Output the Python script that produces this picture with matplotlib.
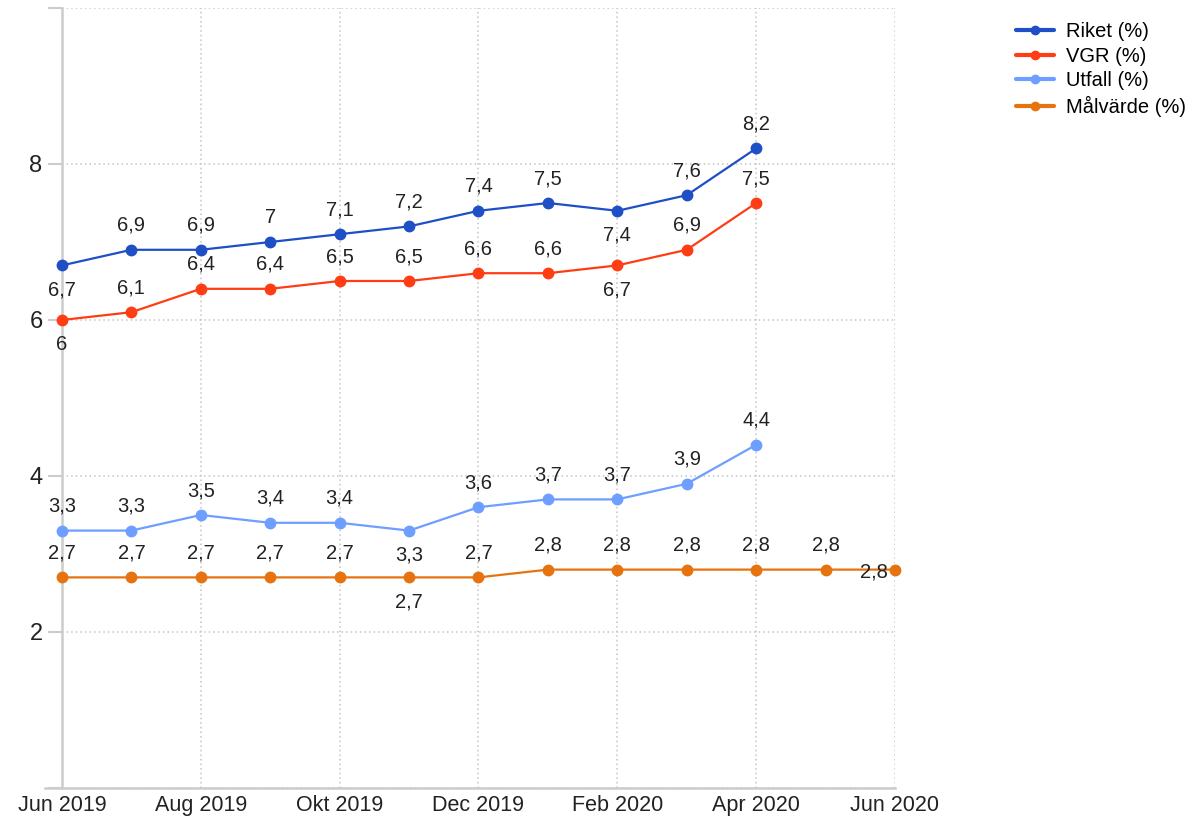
#!/usr/bin/env python3

from matplotlib import pyplot as plt

plt.rcParams['font.family'] = ['Liberation Sans', 'DejaVu Sans']

# months Jun 2019 .. Jun 2020
months = ['Jun 2019', 'Jul 2019', 'Aug 2019', 'Sep 2019', 'Okt 2019', 'Nov 2019',
          'Dec 2019', 'Jan 2020', 'Feb 2020', 'Mar 2020', 'Apr 2020', 'Maj 2020', 'Jun 2020']
tick_labels = ['Jun 2019', 'Aug 2019', 'Okt 2019', 'Dec 2019', 'Feb 2020', 'Apr 2020', 'Jun 2020']

riket = [6.7, 6.9, 6.9, 7.0, 7.1, 7.2, 7.4, 7.5, 7.4, 7.6, 8.2]
vgr = [6.0, 6.1, 6.4, 6.4, 6.5, 6.5, 6.6, 6.6, 6.7, 6.9, 7.5]
utfall = [3.3, 3.3, 3.5, 3.4, 3.4, 3.3, 3.6, 3.7, 3.7, 3.9, 4.4]
malvarde = [2.7, 2.7, 2.7, 2.7, 2.7, 2.7, 2.7, 2.8, 2.8, 2.8, 2.8, 2.8, 2.8]

series = [
    ('Riket (%)', riket, '#1f4fc6'),
    ('VGR (%)', vgr, '#ff3d14'),
    ('Utfall (%)', utfall, '#6e9eff'),
    ('Målvärde (%)', malvarde, '#e6730f'),
]

# where a value label is not put above its point
label_place = {
    ('Riket (%)', 0): 'below', ('VGR (%)', 0): 'below',
    ('Riket (%)', 8): 'below', ('VGR (%)', 8): 'below',
    ('Utfall (%)', 5): 'below', ('Målvärde (%)', 5): 'below',
    ('Målvärde (%)', 12): 'left',
}

fig = plt.figure(figsize=(11.99, 8.23), dpi=100)
ax = fig.add_axes([62 / 1199, 35 / 823, 833 / 1199, 780 / 823])

text_col = '#222222'
grid_col = '#cccccc'
lab_size = 14.5

for name, vals, col in series:
    x = list(range(len(vals)))
    ax.plot(x, vals, color=col, lw=1.6, marker='o', ms=7.5, label=name,
            solid_capstyle='round', zorder=3, clip_on=False)
    for i, v in enumerate(vals):
        txt = ('%g' % v).replace('.', ',')
        place = label_place.get((name, i), 'above')
        if place == 'above':
            ax.annotate(txt, (i, v), xytext=(0, 17.5), textcoords='offset points',
                        ha='center', va='center', fontsize=lab_size, color=text_col, zorder=4)
        elif place == 'below':
            ax.annotate(txt, (i, v), xytext=(0, -17.5), textcoords='offset points',
                        ha='center', va='center', fontsize=lab_size, color=text_col, zorder=4)
        else:
            ax.annotate(txt, (i, v), xytext=(-5, -2), textcoords='offset points',
                        ha='right', va='center', fontsize=lab_size, color=text_col, zorder=4)

ax.set_xlim(0, 12)
ax.set_ylim(0, 10)
ax.set_xticks(range(0, 13, 2))
ax.set_xticklabels(tick_labels)
ax.set_yticks([0, 2, 4, 6, 8, 10])
ax.set_yticklabels(['', '2', '4', '6', '8', ''])

ax.tick_params(axis='x', length=0, pad=5, labelsize=15.5, labelcolor=text_col)
ax.tick_params(axis='y', length=10, width=1.5, color=grid_col, pad=4,
               labelsize=17, labelcolor=text_col)

ax.grid(True, color='#c4c4c4', linestyle=(0, (1, 2)), lw=1.1)
for s in ['top', 'right']:
    ax.spines[s].set_visible(False)
for s in ['left', 'bottom']:
    ax.spines[s].set_color(grid_col)
    ax.spines[s].set_linewidth(1.8)
ax.spines['bottom'].set_bounds(-0.25, 12)

leg = fig.legend(loc='upper left', bbox_to_anchor=(1008 / 1199, 1 - 14 / 823),
                 frameon=False, fontsize=14.5, handlelength=1.9, handletextpad=0.6,
                 labelspacing=0.28, borderaxespad=0)
for h in leg.get_lines():
    h.set_linewidth(3)
    h.set_markersize(6)

fig.savefig('out.png', dpi=100)
